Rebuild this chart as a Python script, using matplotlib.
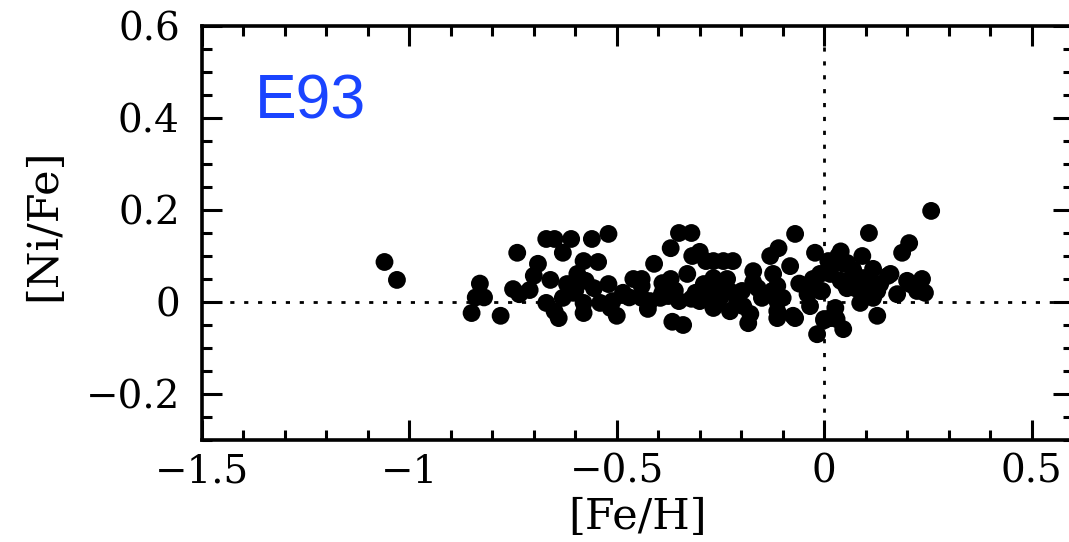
import matplotlib
matplotlib.use("Agg")
import matplotlib.pyplot as plt
from matplotlib.ticker import MultipleLocator

# [Fe/H] values
feh = [-1.06, -1.03, -0.83, -0.84, -0.82, -0.85, -0.78, -0.74, -0.69, -0.70,
       -0.75, -0.735, -0.71, -0.67, -0.65, -0.61, -0.56, -0.52, -0.63, -0.58,
       -0.545, -0.66, -0.62, -0.595, -0.67, -0.65, -0.64, -0.63, -0.605, -0.58,
       -0.58, -0.575, -0.555, -0.54, -0.52, -0.515, -0.50, -0.51, -0.485, -0.46,
       -0.44, -0.41, -0.44, -0.44, -0.425, -0.42, -0.39, -0.37, -0.395, -0.376,
       -0.37, -0.35, -0.32, -0.318, -0.30, -0.285, -0.267, -0.33, -0.366, -0.34,
       -0.35, -0.32, -0.30, -0.267, -0.275, -0.29, -0.267, -0.234, -0.243, -0.22,
       -0.243, -0.22, -0.198, -0.258, -0.227, -0.21, -0.195, -0.178, -0.183, -0.171,
       -0.171, -0.147, -0.123, -0.113, -0.10, -0.113, -0.113, -0.07, -0.11, -0.13,
       -0.082, -0.022, -0.07, -0.034, -0.04, -0.027, -0.04, -0.01, 0.015, 0.01,
       0.034, 0.046, 0.04, 0.022, 0.055, 0.0, 0.027, -0.017, 0.015, 0.046,
       0.03, 0.0, 0.108, 0.258, 0.205, 0.188, 0.092, 0.118, 0.16, 0.20,
       0.236, 0.243, 0.224, 0.176, 0.07, 0.094, 0.11, 0.05, 0.075, 0.104,
       0.128, 0.135, 0.087, 0.118, 0.128, -0.005, 0.055, 0.04, 0.154, 0.207,
       -0.15, -0.075, -0.01, -0.125, -0.113,
       -0.31, -0.28, -0.25, -0.36, -0.39, -0.47, -0.60, -0.16, -0.06, 0.07]

# [Ni/Fe] values
nife = [0.087, 0.048, 0.04, 0.01, 0.01, -0.024, -0.03, 0.107, 0.083, 0.057,
        0.028, 0.017, 0.026, 0.137, 0.137, 0.137, 0.137, 0.148, 0.107, 0.089,
        0.087, 0.048, 0.039, 0.061, -0.002, -0.02, -0.035, 0.009, 0.02, -0.002,
        -0.024, 0.046, 0.03, -0.002, 0.039, -0.013, -0.03, 0.002, 0.02, 0.05,
        0.05, 0.083, 0.035, 0.009, -0.015, 0.002, 0.041, 0.05, 0.009, 0.013,
        0.117, 0.15, 0.15, 0.10, 0.109, 0.089, 0.089, 0.061, -0.043, -0.05,
        0.002, 0.007, 0.002, -0.013, 0.024, 0.039, 0.052, 0.05, 0.089, 0.089,
        0.03, 0.02, 0.024, -0.004, -0.02, -0.002, -0.009, -0.026, -0.046, 0.067,
        0.043, 0.013, 0.061, 0.035, 0.009, -0.02, -0.035, 0.148, 0.117, 0.10,
        0.078, 0.107, -0.035, -0.009, 0.03, 0.05, 0.017, 0.061, 0.061, 0.089,
        0.10, 0.083, 0.11, 0.085, 0.085, -0.037, -0.013, -0.07, -0.035, -0.059,
        -0.037, -0.04, 0.15, 0.198, 0.128, 0.107, 0.10, 0.072, 0.061, 0.046,
        0.05, 0.02, 0.024, 0.017, 0.061, 0.052, 0.046, 0.039, 0.03, 0.024,
        0.024, 0.039, -0.002, 0.009, -0.03, 0.024, 0.03, 0.046, 0.057, 0.039,
        0.009, -0.03, 0.024, 0.024, 0.002,
        0.02, 0.015, 0.01, 0.025, 0.02, 0.01, 0.025, 0.03, 0.04, 0.07]

xticks = [-1.5, -1.0, -0.5, 0.0, 0.5]
xtick_labels = ["\u22121.5", "\u22121", "\u22120.5", "0", "0.5"]
yticks = [-0.2, 0.0, 0.2, 0.4, 0.6]
ytick_labels = ["\u22120.2", "0", "0.2", "0.4", "0.6"]
label_text = "E93"

W, H = 1069, 542
fig = plt.figure(figsize=(W / 100, H / 100), dpi=100)
ax = fig.add_axes([202 / W, (H - 440) / H, 871 / W, 414 / H])

ax.set_xlim(-1.5, 0.6)
ax.set_ylim(-0.3, 0.6)

ax.axhline(0, color="black", lw=2, linestyle=(0, (1.5, 3.5)), zorder=1)
ax.axvline(0, color="black", lw=2, linestyle=(0, (1.5, 3.5)), zorder=1)

ax.scatter(feh, nife, s=165, color="black", edgecolors="none", zorder=3)

serif = "DejaVu Serif"
ax.set_xticks(xticks)
ax.set_xticklabels(xtick_labels, family=serif, fontsize=28)
ax.set_yticks(yticks)
ax.set_yticklabels(ytick_labels, family=serif, fontsize=28)
ax.xaxis.set_minor_locator(MultipleLocator(0.1))
ax.yaxis.set_minor_locator(MultipleLocator(0.05))

ax.tick_params(which="both", direction="in", top=True, right=True, width=2.2, color="black")
ax.tick_params(which="major", length=14.5)
ax.tick_params(which="minor", length=7.2)
ax.tick_params(axis="x", which="major", pad=10)
ax.tick_params(axis="y", which="major", pad=16)

for sp in ax.spines.values():
    sp.set_linewidth(2.6)

ax.set_xlabel("[Fe/H]", family=serif, fontsize=31)
ax.set_ylabel("[Ni/Fe]", family=serif, fontsize=31)
ax.xaxis.set_label_coords(0.5, -0.135)
ax.yaxis.set_label_coords(-0.158, 0.52)

ax.text(-1.372, 0.398, label_text, color="#1a44ff", fontsize=45,
        family="Liberation Sans", va="baseline", ha="left")

fig.savefig("out.png", dpi=100)
